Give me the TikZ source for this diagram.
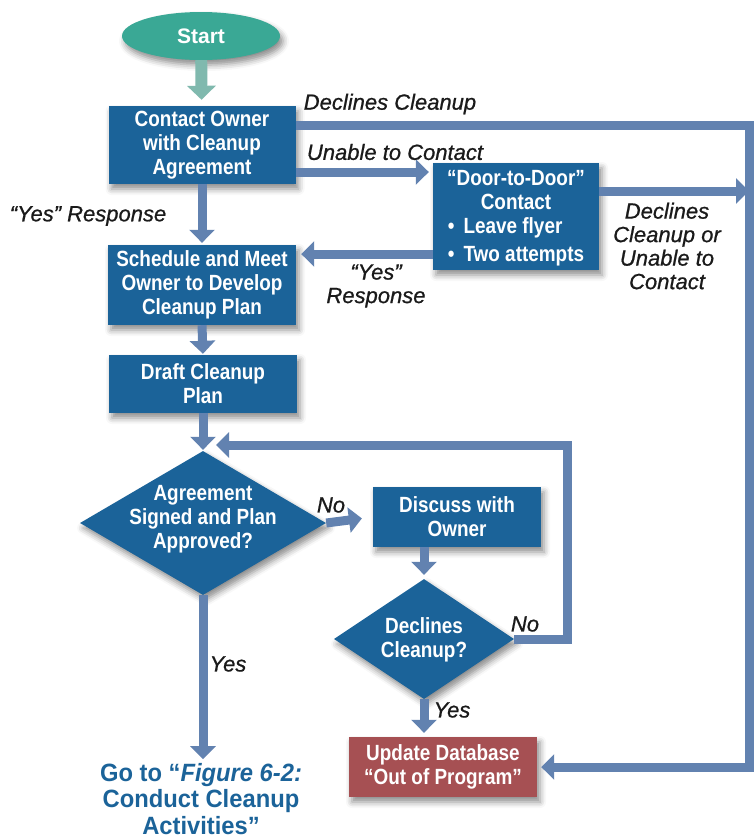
\documentclass[tikz,border=0pt]{standalone}
\usepackage{fontspec}
\setmainfont{Liberation Sans}
\newfontfamily\condfont{Liberation Sans}[FakeStretch=0.86]
\newfontfamily\gofont{Liberation Sans}[FakeStretch=0.95]
\newfontfamily\labfont{Liberation Sans}[FakeBold=0.8]
\usetikzlibrary{shapes.geometric,arrows.meta,shadows.blur}
\definecolor{boxblue}{HTML}{1B6399}
\definecolor{flowblue}{HTML}{6282B0}
\definecolor{startteal}{HTML}{3AA895}
\definecolor{startarrow}{HTML}{80B9AE}
\definecolor{outred}{HTML}{A65053}
\definecolor{labelblack}{HTML}{1A1A1A}
\tikzset{
  softshadow/.style={blur shadow={shadow xshift=3pt,shadow yshift=-5pt,shadow blur radius=6pt,shadow opacity=45}},
  boxfont/.style={font=\condfont\bfseries\fontsize{22}{24}\selectfont},
  procbox/.style={rectangle,fill=boxblue,text=white,inner sep=0pt,align=center,boxfont,softshadow},
  outbox/.style={procbox,fill=outred},
  startnode/.style={ellipse,fill=startteal,text=white,inner sep=0pt,minimum width=158pt,minimum height=48pt,
    font=\bfseries\fontsize{21}{24}\selectfont,softshadow},
  decision/.style={diamond,fill=boxblue,inner sep=0pt,softshadow},
  dtext/.style={text=white,align=center,inner sep=0pt,boxfont},
  flow/.style={draw=flowblue,line width=9pt,line join=miter,-{Triangle[width=25pt,length=13pt]}},
  startflow/.style={draw=startarrow,line width=12pt,-{Triangle[width=28pt,length=14pt]}},
  lab/.style={font=\labfont\itshape\fontsize{22}{23.5}\selectfont,text=labelblack,align=center,inner sep=0pt},
  gotext/.style={font=\gofont\bfseries\fontsize{25}{26.5}\selectfont,text=boxblue,align=center,inner sep=0pt}
}
\begin{document}
\begin{tikzpicture}[x=1pt,y=-1pt]
\useasboundingbox (0,0) rectangle (754,839);

% nodes
\node[startnode] (start) at (201,36) {Start};
\node[procbox,minimum width=187pt,minimum height=78pt] (contact) at (202,145) {Contact Owner\\with Cleanup\\Agreement};
\node[procbox,minimum width=188pt,minimum height=80pt] (schedule) at (202,285) {Schedule and Meet\\Owner to Develop\\Cleanup Plan};
\node[procbox,minimum width=188pt,minimum height=58pt] (draft) at (203,384) {Draft Cleanup\\Plan};
\node[procbox,minimum width=166pt,minimum height=107pt] (door) at (516,216.5)
  {\rule{0pt}{21pt}“Door-to-Door”\\Contact\\[6pt]
   \begin{tabular}{@{}l@{\hspace{9pt}}l@{}}•&Leave flyer\\[4pt] •&Two attempts\end{tabular}};
\node[decision,minimum width=246pt,minimum height=144pt] (agree) at (203,523) {};
\node[dtext] at (203,519) {Agreement\\Signed and Plan\\Approved?};
\node[procbox,minimum width=168pt,minimum height=60pt] (discuss) at (457,517) {Discuss with\\Owner};
\node[decision,minimum width=180pt,minimum height=120pt] (declines) at (424,639) {};
\node[dtext] at (424,640) {Declines\\Cleanup?};
\node[outbox,minimum width=188pt,minimum height=60pt] (update) at (443,767) {Update Database\\“Out of Program”};
\node[gotext] (goto) at (201,799) {Go to “\textit{Figure 6-2:}\\Conduct Cleanup\\Activities”};

\coordinate (rt) at (749,125);
\coordinate (rb) at (749,767);
\coordinate (loopx) at (567,639);
\coordinate (loopend) at (216,445);

% connectors
\draw[startflow,shorten >=6pt] (start) -- (contact);
\draw[flow,shorten >=2pt] (contact.south) -- (schedule.north);
\draw[flow,shorten >=1pt] (schedule.south) -- (draft.north);
\draw[flow,shorten >=1pt] (draft.south) -- (draft.south |- agree.north);

\draw[flow,shorten >=4pt] ([yshift=-27pt]contact.east) -- ([yshift=-27pt]contact.east -| door.west);
\draw[flow] ([yshift=25.5pt]door.east) -- ([yshift=25.5pt]door.east -| rt);
\draw[flow,shorten >=5pt] ([yshift=-37.5pt]door.west) -- ([yshift=-37.5pt]door.west -| schedule.east);
\draw[flow,shorten >=4pt] ([yshift=20pt]contact.east) -- ([yshift=20pt]contact.east -| rt) -- (rb) -- (update.east);

\draw[flow,shorten >=11pt] (agree.east) -- (discuss.west);
\draw[flow,shorten >=4pt] (discuss.south -| declines.north) -- (declines.north);
\draw[flow] (declines.east) -- (loopx) -- (loopx |- loopend) -- (loopend);
\draw[flow,shorten >=4pt] (declines.south) -- (declines.south |- update.north);
\draw[flow,shorten >=4pt] (agree.south) -- (agree.south |- goto.north);

% labels
\node[lab] at (390,104) {Declines Cleanup};
\node[lab] at (395,152) {Unable to Contact};
\node[lab] at (88,216) {“Yes” Response};
\node[lab] at (667,246) {Declines\\Cleanup or\\Unable to\\Contact};
\node[lab] at (376,286) {“Yes”\\Response};
\node[lab] at (331,505) {No};
\node[lab] at (525,624) {No};
\node[lab] at (452,710) {Yes};
\node[lab] at (228,664) {Yes};
\end{tikzpicture}
\end{document}
